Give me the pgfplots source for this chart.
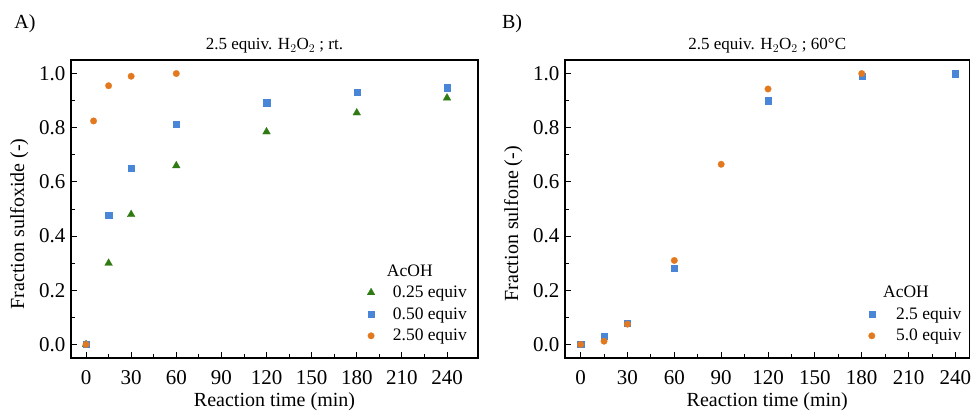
\documentclass[border=0pt]{standalone}
\usepackage{pgfplots}
\pgfplotsset{compat=1.18}
\usepackage{fontspec}
\setmainfont{Liberation Serif}
\definecolor{cgreen}{RGB}{47,122,18}
\definecolor{cblue}{RGB}{74,134,216}
\definecolor{corange}{RGB}{226,121,30}
\pgfplotsset{
  panel/.style={
    scale only axis, height=298bp,
    ymin=-0.05, ymax=1.05,
    xtick={0,30,...,240}, minor x tick num=1,
    ytick={0,0.2,...,1.0}, minor y tick num=1,
    tick align=inside, xtick pos=bottom, ytick pos=left,
    major tick length=6bp, minor tick length=3.5bp,
    axis line style={line width=1.2bp}, tick style={line width=0.9bp, black},
    /pgf/number format/assume math mode=true,
    yticklabel style={/pgf/number format/fixed, /pgf/number format/fixed zerofill, /pgf/number format/precision=1, xshift=-2bp},
    ticklabel style={font=\fontsize{21bp}{25bp}\selectfont},
    xticklabel style={yshift=-9bp},
    label style={font=\fontsize{20bp}{24bp}\selectfont},
    title style={font=\fontsize{17bp}{20bp}\selectfont, yshift=-3bp},
    xlabel={Reaction time (min)},
    xlabel style={yshift=-1bp},
    ylabel style={at={(ticklabel cs:0.45)}, yshift=4bp},
    legend cell align=left,
    legend style={draw=none, fill=none, font=\fontsize{17.5bp}{21bp}\selectfont,
      row sep=4.5bp, inner sep=0pt},
  },
  gm/.style={cgreen, only marks, mark=triangle*, mark size=4.5bp, mark options={fill=cgreen, draw=cgreen, line width=0.2bp}},
  bm/.style={cblue, only marks, mark=square*, mark size=3.1bp, mark options={fill=cblue, draw=cblue, line width=0.2bp}},
  om/.style={corange, only marks, mark=*, mark size=3.3bp, mark options={fill=corange, draw=corange, line width=0.2bp}},
}
\begin{document}
\begin{tikzpicture}
\path[use as bounding box] (0,0) rectangle (971bp,412bp);
\node[font=\fontsize{20bp}{24bp}\selectfont] at (25bp,388bp) {A)};
\node[font=\fontsize{20bp}{24bp}\selectfont] at (512bp,388bp) {B)};
\begin{axis}[panel, at={(71bp,54bp)}, anchor=south west,
  width=407bp, xmin=-10, xmax=260.6,
  title={2.5 equiv. H$_2$O$_2$ ; rt.},
  ylabel={Fraction sulfoxide (-)},
  legend style={at={(0.978,0.045)}, anchor=south east}]
\addlegendimage{empty legend}\addlegendentry{\hspace{10bp}AcOH}
\addplot[gm] coordinates {(0,0) (15,0.30) (30,0.48) (60,0.66) (120,0.785) (180,0.855) (240,0.91)};
\addlegendentry{\hspace{16bp}0.25 equiv}
\addplot[bm] coordinates {(0,0) (15,0.477) (30,0.652) (60,0.812) (120,0.893) (180,0.932) (240,0.948)};
\addlegendentry{\hspace{16bp}0.50 equiv}
\addplot[om] coordinates {(0,0) (5,0.825) (15,0.955) (30,0.99) (60,1.0)};
\addlegendentry{\hspace{16bp}2.50 equiv}
\end{axis}
\begin{axis}[panel, at={(565bp,54bp)}, anchor=south west,
  width=404.5bp, xmin=-10, xmax=249,
  title={2.5 equiv. H$_2$O$_2$ ; 60°C},
  ylabel={Fraction sulfone (-)},
  legend style={at={(0.985,0.045)}, anchor=south east}]
\addlegendimage{empty legend}\addlegendentry{\hspace{6bp}AcOH}
\addplot[bm] coordinates {(0,0) (15,0.03) (30,0.08) (60,0.283) (120,0.90) (180,0.99) (240,1.0)};
\addlegendentry{\hspace{19bp}2.5 equiv}
\addplot[om] coordinates {(0,0) (15,0.012) (30,0.075) (60,0.31) (90,0.665) (120,0.943) (180,1.0)};
\addlegendentry{\hspace{19bp}5.0 equiv}
\end{axis}
\end{tikzpicture}
\end{document}
